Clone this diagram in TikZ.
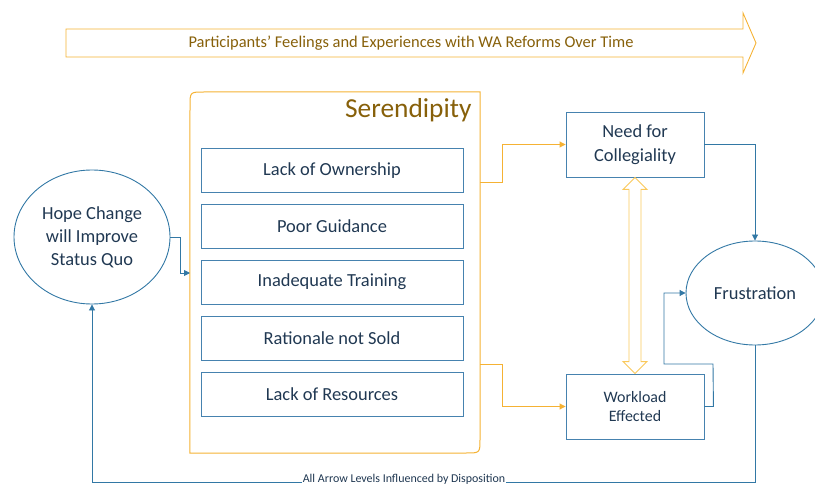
\documentclass[tikz,border=0pt]{standalone}
\usepackage{fontspec}
\setmainfont{Carlito}
\usetikzlibrary{shapes.geometric,arrows.meta,calc}
\definecolor{lineblue}{RGB}{50,120,165}
\definecolor{boxblue}{RGB}{70,130,175}
\definecolor{txt}{RGB}{32,56,82}
\definecolor{gold}{RGB}{245,178,52}
\definecolor{lightgold}{RGB}{250,200,90}
\definecolor{brown}{RGB}{135,96,10}
\tikzset{
  itembox/.style={draw=boxblue,line width=0.9bp,minimum width=262bp,minimum height=44bp,inner sep=0pt,text=txt,font=\fontsize{18.5}{22}\selectfont},
  sidebox/.style={draw=boxblue,line width=0.9bp,minimum width=138bp,minimum height=65bp,inner sep=0pt,text=txt,align=center},
  oval/.style={ellipse,draw=lineblue,line width=0.9bp,inner sep=0pt,text=txt,align=center,font=\fontsize{18.5}{23}\selectfont},
  bl/.style={draw=lineblue,line width=0.9bp,-{Triangle[length=6bp,width=6bp]}},
  og/.style={draw=gold,line width=0.9bp,-{Triangle[length=6bp,width=6bp]}},
}
\begin{document}
\begin{tikzpicture}[x=1bp,y=-1bp]
\useasboundingbox (0,0) rectangle (815,486);
% top arrow
\draw[gold,line width=0.9bp] (66,29) -- (743,29) -- (743,13) -- (756,43) -- (743,73) -- (743,57) -- (66,57) -- cycle;
\node[text=brown,font=\fontsize{16.5}{19}\selectfont] (title) at (411,43) {Participants’ Feelings and Experiences with WA Reforms Over Time};
% container
\node[minimum width=290bp,minimum height=361bp,inner sep=0pt] (ser) at (335,272.5) {};
\draw[gold,line width=1bp] (ser.north east) -- (204,92) .. controls (190,92) .. (190,106) -- (ser.south west) -- (466,453) .. controls (480,453) .. (480,439) -- cycle;
\node[anchor=east,text=brown,font=\fontsize{27.5}{31}\selectfont] (sertitle) at (475,110) {Serendipity};
% items
\node[itembox] (i1) at (332,170.5) {Lack of Ownership};
\node[itembox] (i2) at (332,226) {Poor Guidance};
\node[itembox] (i3) at (332,282) {Inadequate Training};
\node[itembox] (i4) at (332,338) {Rationale not Sold};
\node[itembox] (i5) at (332,394) {Lack of Resources};
% ellipses
\node[oval,minimum width=156bp,minimum height=134bp] (hope) at (92,237) {Hope Change\\will Improve\\Status Quo};
\node[oval,minimum width=138bp,minimum height=104bp] (frus) at (755,293) {Frustration};
% side boxes
\node[sidebox,font=\fontsize{18.5}{24}\selectfont] (need) at (635,144.5) {Need for\\Collegiality};
\node[sidebox,font=\fontsize{16}{20}\selectfont] (work) at (635,406.5) {Workload\\Effected};
% double arrow
\draw[lightgold,line width=0.9bp] ($(need.south)$) -- ++(12,12) -- ++(-6,0) |- ($(work.north)+(6,-12)$) -- ++(6,0) -- (work.north) -- ++(-12,-12) -- ++(6,0) |- ($(need.south)+(-12,12)$) -- cycle;
% connectors
\coordinate (serin) at (190,273);
\coordinate (serout1) at (480,182);
\coordinate (serout2) at (480,364);
\draw[bl] (hope.east) -- ++(10,0) |- (serin);
\draw[og] (serout1) -- (502,182) |- (need.west);
\draw[og] (serout2) -- (502,364) |- (work.west);
\draw[bl] (need.east) -| (frus.north);
\draw[bl] (work.east) -- ++(9,0) -- (713,364) -- (664,364) |- (frus.west);
\coordinate (bot) at (755,482);
\draw[bl] (frus.south) -- (bot) -| (hope.south);
\node[fill=white,inner sep=0.5bp,text=txt,font=\fontsize{12}{13}\selectfont] (disp) at (404,479.5) {All Arrow Levels Influenced by Disposition};
\end{tikzpicture}
\end{document}
